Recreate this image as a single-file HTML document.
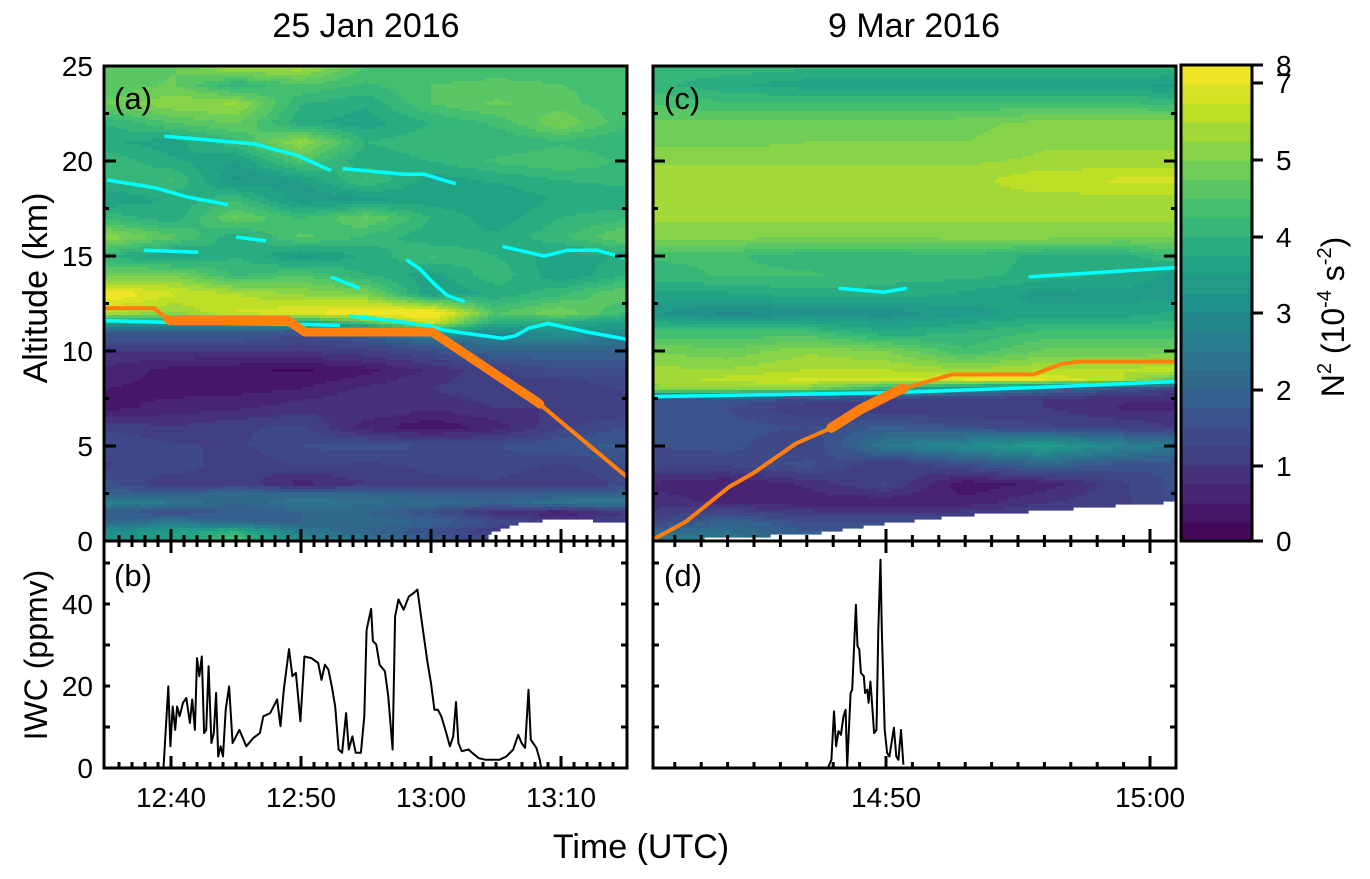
<!DOCTYPE html>
<html><head><meta charset="utf-8"><title>N2 and IWC</title>
<style>
html,body{margin:0;padding:0;background:#fff;}
svg text{font-family:"Liberation Sans",Arial,sans-serif;fill:#000;}
</style></head>
<body>
<svg id="chart" xmlns="http://www.w3.org/2000/svg" width="1370" height="874" viewBox="0 0 1370 874">
<defs>
<clipPath id="clipA"><rect x="104" y="66" width="523" height="475"/></clipPath>
<clipPath id="clipC"><rect x="653" y="66" width="523" height="475"/></clipPath>
<clipPath id="clipB"><rect x="104" y="541" width="523" height="227"/></clipPath>
<clipPath id="clipD"><rect x="653" y="541" width="523" height="227"/></clipPath>
</defs>
<g id="fieldA" clip-path="url(#clipA)"></g>
<g id="fieldC" clip-path="url(#clipC)"></g>
<g id="linesA" clip-path="url(#clipA)"></g>
<g id="linesC" clip-path="url(#clipC)"></g>
<g id="iwcB" clip-path="url(#clipB)"></g>
<g id="iwcD" clip-path="url(#clipD)"></g>
<g id="cbar"></g>
<g id="ticks"></g>
<g fill="none" stroke="#000" stroke-width="3">
<rect x="104" y="66" width="523" height="475"/>
<rect x="104" y="541" width="523" height="227"/>
<rect x="653" y="66" width="523" height="475"/>
<rect x="653" y="541" width="523" height="227"/>
<rect x="1181" y="65" width="71" height="476"/>
</g>
<text x="366" y="37" font-size="34" text-anchor="middle">25 Jan 2016</text>
<text x="914" y="37" font-size="34" text-anchor="middle">9 Mar 2016</text>
<text x="114" y="109" font-size="31">(a)</text>
<text x="114" y="586" font-size="31">(b)</text>
<text x="664" y="109" font-size="31">(c)</text>
<text x="664" y="586" font-size="31">(d)</text>
<text transform="translate(47,288) rotate(-90)" font-size="34" text-anchor="middle">Altitude (km)</text>
<text transform="translate(47,655) rotate(-90)" font-size="32" text-anchor="middle">IWC (ppmv)</text>
<text x="641" y="858" font-size="34" text-anchor="middle">Time (UTC)</text>
<text transform="translate(1344,317) rotate(-90)" font-size="32" text-anchor="middle">N<tspan font-size="20" dy="-13">2</tspan><tspan dy="13"> (10</tspan><tspan font-size="20" dy="-13">-4</tspan><tspan dy="13"> s</tspan><tspan font-size="20" dy="-13">-2</tspan><tspan dy="13">)</tspan></text>
<g id="labels"></g>
</svg>
<script>
// ---------- data ----------
const altsA = [0,0.5,1,1.5,2,2.5,3,4,5,6,7,8,9,10,10.5,11,11.5,12,13,14,15,16,17,18,19,20,21,22,23,24,25];
const timesA = [35,40,45,50,55,60,65,70,75];
const n2A = [
[3.0,3.5,4.5,3.0,2.5,2.0,1.5,1.5,1.5],
[3.0,3.5,4.0,2.5,2.0,1.5,1.0,1.0,1.0],
[2.0,2.5,2.0,2.0,2.2,2.0,1.5,1.2,1.2],
[1.8,1.5,1.8,2.0,2.0,1.5,0.8,0.5,1.0],
[2.8,2.5,2.0,2.5,2.3,2.2,2.0,2.5,2.5],
[2.0,1.8,2.2,2.0,2.0,1.8,1.8,1.8,2.0],
[1.6,1.0,1.2,0.6,1.0,1.2,1.2,1.0,1.3],
[1.2,1.5,1.0,1.3,1.2,1.3,1.4,1.2,1.5],
[1.5,1.3,1.2,1.5,1.6,1.5,1.5,1.7,1.8],
[1.2,1.0,1.2,1.3,0.6,0.3,0.6,1.2,1.5],
[0.4,0.6,0.7,0.9,1.0,0.8,1.0,1.0,1.0],
[0.5,0.4,0.4,0.5,0.8,1.0,1.2,1.0,1.3],
[0.7,0.4,0.3,0.2,0.4,0.8,1.2,1.5,1.5],
[1.0,1.0,1.0,1.0,1.2,1.5,2.0,2.0,2.0],
[1.5,1.5,1.5,1.3,1.5,2.0,2.5,2.5,2.3],
[1.8,1.8,1.8,1.6,2.0,3.5,3.0,3.2,3.2],
[3.5,3.5,3.5,3.5,4.5,5.8,3.8,3.8,3.5],
[5.5,5.2,5.8,6.0,6.3,6.5,4.5,5.0,4.2],
[6.3,5.8,5.5,5.2,5.0,3.5,3.8,4.2,4.8],
[4.8,5.0,4.2,4.5,4.0,3.6,4.2,3.5,4.0],
[4.0,3.5,4.0,3.4,3.8,4.3,4.0,3.6,3.8],
[5.2,4.6,3.8,4.6,4.2,3.8,3.8,4.2,4.8],
[4.2,3.8,4.8,4.2,4.8,4.0,3.6,4.0,4.2],
[3.5,3.8,4.2,3.3,3.4,3.6,3.5,3.8,3.8],
[4.0,4.3,3.2,3.5,4.3,3.6,3.8,4.0,4.1],
[4.2,3.8,3.5,4.5,3.8,4.0,4.3,4.5,4.2],
[3.8,3.6,4.2,5.3,4.0,4.2,4.0,4.2,4.0],
[4.0,4.5,4.8,3.8,3.6,4.0,4.3,5.0,4.3],
[4.8,5.2,5.3,4.0,3.8,4.5,4.8,4.6,4.3],
[4.5,4.8,4.0,4.5,4.2,4.5,4.6,4.5,4.4],
[4.5,4.7,5.5,5.5,4.5,4.3,4.3,4.3,4.5]
];
const groundTimesA = [35,64.3,64.6,66.9,69.5,72,75.2];
const groundAltA = [0,0,0.45,0.95,1.15,1.1,0.93];

const altsC = [0,1,2,3,4,5,6,7,7.5,8,8.5,9,10,11,12,13,14,15,16,17,18,19,20,21,22,23,24,25];
const timesC = [41,44,47,50,53,56,59,61];
const n2C = [
[3.0,2.5,2.0,2.0,2.0,2.0,2.0,2.0],
[1.2,2.0,1.5,1.5,1.5,1.5,1.5,1.5],
[0.9,0.7,0.6,0.5,0.6,1.0,1.2,1.5],
[0.7,0.5,0.8,1.3,0.3,0.6,1.2,1.6],
[1.3,1.3,1.6,1.0,1.5,2.0,1.6,1.5],
[1.5,1.6,1.2,2.5,3.0,3.5,2.8,2.5],
[1.5,1.6,1.5,1.8,1.5,1.3,1.2,1.0],
[1.5,1.5,1.0,1.0,1.0,1.0,0.7,0.7],
[1.8,1.7,1.5,1.3,1.2,1.0,0.8,0.8],
[5.2,5.2,5.0,4.0,3.0,2.2,1.5,1.2],
[5.3,5.6,5.8,5.8,6.0,6.0,5.5,4.5],
[5.3,5.3,5.5,5.5,5.3,5.5,5.5,5.8],
[5.0,4.8,5.2,5.0,4.3,4.8,4.8,4.8],
[4.3,4.3,4.3,3.8,4.0,4.3,4.3,4.3],
[3.3,2.9,3.1,3.1,3.4,3.6,3.6,3.8],
[3.7,3.7,3.9,3.9,3.7,3.4,3.4,3.4],
[4.1,4.3,4.3,4.1,4.1,3.9,3.7,3.4],
[4.3,4.3,4.1,4.1,4.2,3.9,3.9,4.3],
[5.1,5.1,5.0,5.0,5.1,5.1,5.0,5.0],
[5.3,5.3,5.3,5.3,5.3,5.3,5.3,5.3],
[5.4,5.4,5.4,5.4,5.4,5.4,5.4,5.4],
[5.4,5.4,5.4,5.4,5.4,5.7,5.8,5.8],
[5.2,5.2,5.2,5.2,5.2,5.3,5.3,5.3],
[4.9,4.9,5.0,5.0,5.0,5.2,5.2,5.2],
[4.8,4.8,4.8,4.8,4.9,5.1,5.1,5.1],
[4.5,4.3,4.3,4.3,4.3,4.3,4.3,4.2],
[4.1,3.8,3.6,3.6,3.6,3.6,3.6,3.4],
[4.2,4.2,4.1,4.1,4.1,4.1,4.1,4.1]
];
const groundTimesC = [41,47.3,50,53,56,59,61];
const groundAltC = [0,0.4,0.93,1.37,1.6,1.9,2.07];

// tropopause (cyan) segments
const tropoA = [
 {t:[35,40,45,50,53],a:[11.6,11.5,11.45,11.4,11.35]},
 {t:[53.7,57,60,61,63,65.5,66.5,67.5,69,72,75.2],a:[11.85,11.6,11.3,11.1,10.9,10.67,10.8,11.2,11.45,11.0,10.6]},
 {t:[39.5,46.4,49.7,52.3],a:[21.3,20.9,20.3,19.5]},
 {t:[53.2,57.9,59.5,61.9],a:[19.6,19.3,19.3,18.8]},
 {t:[35.1,38.7,41.3,44.4],a:[19.0,18.6,18.1,17.7]},
 {t:[45.0,47.3],a:[16.0,15.8]},
 {t:[37.9,42.1],a:[15.3,15.2]},
 {t:[52.3,54.5],a:[13.9,13.3]},
 {t:[58.1,59.1,60.3,61.3,62.6],a:[14.8,14.35,13.5,12.9,12.6]},
 {t:[65.5,68.7,70.5,72.8,74.9],a:[15.5,15.0,15.3,15.3,14.9]}
];
const tropoC = [
 {t:[41.17,50,56,61.1],a:[7.6,7.8,8.1,8.4]},
 {t:[48.2,49.9,50.8],a:[13.3,13.1,13.3]},
 {t:[55.4,61.1],a:[13.9,14.4]}
];
// flight track (orange)
const trackTimesA = [34.9,38.7,39.9,49.0,50.3,60.1,68.2,75.2];
const trackAltA = [12.25,12.25,11.6,11.6,11.0,11.0,7.3,3.3];
const trackTimesC = [41.2,42.4,44.07,44.96,46.6,47.9,49.0,50.5,52.5,55.6,56.6,57.3,61.1];
const trackAltC = [0.1,1.0,2.86,3.56,5.14,5.93,6.9,7.95,8.77,8.77,9.3,9.44,9.44];
// IWC
const iwcTimesB = [39.42,39.79,39.95,40.13,40.32,40.47,40.66,40.92,41.18,41.45,41.63,41.84,42.0,42.18,42.37,42.55,42.71,42.89,43.11,43.29,43.47,43.63,43.82,44.0,44.21,44.47,44.74,45.0,45.26,45.79,46.32,46.84,47.1,47.63,48.16,48.42,48.68,49.08,49.34,49.61,49.95,50.26,50.79,51.32,51.58,51.84,52.11,52.37,52.63,52.89,53.16,53.47,53.68,53.95,54.21,54.61,54.87,55.05,55.39,55.53,55.79,56.05,56.45,56.71,57.05,57.24,57.5,57.89,58.29,58.68,58.95,59.34,59.74,60.0,60.26,60.53,60.79,61.18,61.45,61.71,61.92,62.11,62.37,62.89,63.16,63.68,64.21,65.26,65.79,66.32,66.71,66.97,67.24,67.5,67.68,68.11,68.37,68.47];
const iwcValsB = [0,19.9,5.3,15.0,9.3,15.0,12.6,15.9,17.1,11.0,16.7,9.3,26.8,22.4,27.2,8.5,9.3,24.8,6.1,8.5,18.3,2.8,5.3,2.8,14.2,19.9,6.1,7.7,9.3,5.3,7.3,8.5,12.6,13.4,16.7,10.2,19.1,29.0,22.4,23.2,11.4,27.2,26.8,25.6,21.5,25.2,24.0,19.9,15.0,4.5,3.7,13.4,4.5,7.7,3.7,3.7,12.6,33.7,38.8,31.0,30.1,25.2,23.6,17.6,4.5,37.0,41.1,38.6,41.8,42.7,43.5,34.6,25.6,20.7,14.2,14.2,12.6,8.5,5.3,7.7,16.1,6.1,4.1,4.5,3.7,2.4,2.0,2.0,2.8,4.5,8.1,6.1,4.9,19.1,6.9,4.9,2.0,0];
const iwcTimesD = [47.80,47.93,48.03,48.11,48.2,48.29,48.39,48.47,48.53,48.66,48.72,48.86,48.92,48.99,49.05,49.16,49.21,49.29,49.34,49.41,49.47,49.55,49.64,49.71,49.79,49.84,49.95,50.04,50.13,50.30,50.39,50.47,50.57,50.66];
const iwcValsD = [0,2.0,13.8,5.3,9.0,8.1,12.6,14.2,0.4,18.3,19.1,39.8,29.7,28.9,23.2,22.4,18.3,19.1,15.9,21.1,15.9,8.5,9.3,33.7,50.8,33.7,9.3,3.7,2.8,9.8,2.8,2.0,9.3,0.8];
// ticks
const altTicks = [0,5,10,15,20,25];
const iwcTickLabels = [0,20,40];
const timeLabelsA = ["12:40","12:50","13:00","13:10"];
const timeLabelTimesA = [40,50,60,70];
const timeLabelsC = ["14:50","15:00"];
const timeLabelTimesC = [50,60];
const cbarTickLabels = ["0","1","2","3","4","5","7","8"];

// ---------- scales ----------
const NS = "http://www.w3.org/2000/svg";
const xA = t => 171 + (t - 40) * 13;
const xAinv = x => 40 + (x - 171) / 13;
const xC = t => 886 + (t - 50) * 26.4;
const xCinv = x => 50 + (x - 886) / 26.4;
const yAlt = a => 541 - a * 19;
const yIWC = v => 768 - v * 4.1;
const VMAX = 6.25, NB = 25;
const cbarTickPos = [541,466,390,313,237,160,83,65];

function mk(tag, attrs, parent) {
  const e = document.createElementNS(NS, tag);
  for (const k in attrs) e.setAttribute(k, attrs[k]);
  parent.appendChild(e);
  return e;
}
const VIR = ["#440154","#482475","#414487","#355f8d","#2a788e","#21918c","#22a884","#44bf70","#7ad151","#bddf26","#fde725"];
function hex2rgb(h){return [parseInt(h.substr(1,2),16),parseInt(h.substr(3,2),16),parseInt(h.substr(5,2),16)];}
const VIRRGB = VIR.map(hex2rgb);
function viridis(f){
  f = Math.max(0, Math.min(1, f));
  const p = f * 10, i = Math.min(9, Math.floor(p)), r = p - i;
  const a = VIRRGB[i], b = VIRRGB[i+1];
  return "rgb(" + a.map((c,k)=>Math.round(c + (b[k]-c)*r)).join(",") + ")";
}
const bandColors = [];
for (let i = 0; i < NB; i++) bandColors.push(viridis((i + 0.5) / NB));
function band(v){ return Math.max(0, Math.min(NB-1, Math.floor(v / (VMAX/NB)))); }

function idx(arr, v){
  if (v <= arr[0]) return [0, 0];
  if (v >= arr[arr.length-1]) return [arr.length-2, 1];
  for (let i = 0; i < arr.length-1; i++) if (v <= arr[i+1]) return [i, (v-arr[i])/(arr[i+1]-arr[i])];
  return [arr.length-2, 1];
}
function interp1(xs, ys, x){ const [i, r] = idx(xs, x); return ys[i] + (ys[i+1]-ys[i]) * r; }
function bilin(times, alts, vals, t, a){
  const [i, rt] = idx(times, t), [j, ra] = idx(alts, a);
  const v00 = vals[j][i], v01 = vals[j][i+1], v10 = vals[j+1][i], v11 = vals[j+1][i+1];
  return (v00*(1-rt) + v01*rt)*(1-ra) + (v10*(1-rt) + v11*rt)*ra;
}

function drawField(g, times, alts, vals, gT, gA, x0, x1, inv){
  const S = 3;
  for (let py = 66; py < 541; py += S) {
    const a = (541 - (py + S/2)) / 19;
    let runX = x0, runB = null;
    const flush = (xe) => {
      if (runB !== null && runB >= 0) {
        const r = mk("rect", {x: runX, y: py, width: xe - runX + 0.6, height: S + 0.6, fill: bandColors[runB]}, g);
        
        
      }
    };
    for (let px = x0; px < x1; px += S) {
      const t = inv(px + S/2);
      let b;
      if (a < interp1(gT, gA, t)) b = -1;
      else b = band(bilin(times, alts, vals, t, a));
      if (b !== runB) { flush(px); runX = px; runB = b; }
    }
    flush(x1);
  }
}
drawField(document.getElementById("fieldA"), timesA, altsA, n2A, groundTimesA, groundAltA, 104, 627, xAinv);
drawField(document.getElementById("fieldC"), timesC, altsC, n2C, groundTimesC, groundAltC, 653, 1176, xCinv);

function pts(ts, vs, xs, ys){ return ts.map((t,i)=> xs(t).toFixed(1) + "," + ys(vs[i]).toFixed(1)).join(" "); }

// tropopause lines
const gLA = document.getElementById("linesA"), gLC = document.getElementById("linesC");
tropoA.forEach(s => {
  const p = mk("polyline", {points: pts(s.t, s.a, xA, yAlt), fill: "none", stroke: "#00ffff", "stroke-width": 3.5, "stroke-linejoin": "round"}, gLA);
  
  
});
tropoC.forEach(s => {
  const p = mk("polyline", {points: pts(s.t, s.a, xC, yAlt), fill: "none", stroke: "#00ffff", "stroke-width": 3.5, "stroke-linejoin": "round"}, gLC);
  
  
});

// flight tracks
function cloudRange(ts, vs){
  let s = null, e = null;
  vs.forEach((v,i)=>{ if (v > 0) { if (s === null) s = ts[i]; e = ts[i]; } });
  return [s, e];
}
function subTrack(ts, as, t0, t1){
  const ot = [t0], oa = [interp1(ts, as, t0)];
  ts.forEach((t,i)=>{ if (t > t0 && t < t1) { ot.push(t); oa.push(as[i]); } });
  ot.push(t1); oa.push(interp1(ts, as, t1));
  return [ot, oa];
}
function drawTrack(g, ts, as, xs, iT, iV, w){
  const thin = mk("polyline", {points: pts(ts, as, xs, yAlt), fill: "none", stroke: "#ff7f0e", "stroke-width": 4, "stroke-linejoin": "round"}, g);
  
  
  const [t0, t1] = cloudRange(iT, iV);
  const [st, sa] = subTrack(ts, as, t0, t1);
  const thick = mk("polyline", {points: pts(st, sa, xs, yAlt), fill: "none", stroke: "#ff7f0e", "stroke-width": w, "stroke-linejoin": "round", "stroke-linecap": "round"}, g);
  
  
}
drawTrack(gLA, trackTimesA, trackAltA, xA, iwcTimesB, iwcValsB, 9);
drawTrack(gLC, trackTimesC, trackAltC, xC, iwcTimesD, iwcValsD, 10);

// IWC
const lb = mk("polyline", {points: pts(iwcTimesB, iwcValsB, xA, yIWC), fill: "none", stroke: "#000", "stroke-width": 2, "stroke-linejoin": "round"}, document.getElementById("iwcB"));


const ld = mk("polyline", {points: pts(iwcTimesD, iwcValsD, xC, yIWC), fill: "none", stroke: "#000", "stroke-width": 2, "stroke-linejoin": "round"}, document.getElementById("iwcD"));



// colorbar
const gCB = document.getElementById("cbar");
for (let i = 0; i < NB; i++) {
  const y1 = 541 - i * (476 / NB), y0 = 541 - (i + 1) * (476 / NB);
  const r = mk("rect", {x: 1181, y: y0.toFixed(2), width: 71, height: (y1 - y0 + 0.5).toFixed(2), fill: bandColors[i]}, gCB);
  
  
}

// ticks
const gT = document.getElementById("ticks"), gLab = document.getElementById("labels");
function line(x1,y1,x2,y2){
  const l = mk("line", {x1:x1,y1:y1,x2:x2,y2:y2,stroke:"#000","stroke-width":3}, gT);
  
  
}
function label(x,y,txt,anchor,name){
  const t = mk("text", {x:x,y:y,"font-size":28,"text-anchor":anchor}, gLab);
  t.textContent = txt;
  
  
}
[[104,627],[653,1176]].forEach(([L,R])=>{
  for (let a = 2.5; a < 25; a += 2.5) {
    const len = (a % 5 === 0) ? 12 : 5;
    line(L, yAlt(a), L + len, yAlt(a));
    line(R, yAlt(a), R - len, yAlt(a));
  }
  for (let v = 10; v <= 50; v += 10) {
    line(L, yIWC(v), L + 6, yIWC(v));
    line(R, yIWC(v), R - 6, yIWC(v));
  }
});
for (let t = 35; t <= 75; t++) {
  const x = xA(t); if (x <= 106 || x >= 625) continue;
  const len = (t % 10 === 0) ? 12 : 6;
  line(x, 541 - len, x, 541 + len);
  line(x, 768, x, 768 - len);
}
for (let t = 42; t <= 61; t++) {
  const x = xC(t); if (x <= 655 || x >= 1174) continue;
  const len = (t % 10 === 0) ? 12 : 6;
  line(x, 541 - len, x, 541 + len);
  line(x, 768, x, 768 - len);
}
cbarTickPos.forEach(y => line(1252, y, 1263, y));

altTicks.forEach(a => label(93, yAlt(a) + 10, String(a), "end", "y-tick-label-altitude"));
iwcTickLabels.forEach(v => label(93, yIWC(v) + 10, String(v), "end", "y-tick-label-iwc"));
timeLabelsA.forEach((s,i) => label(xA(timeLabelTimesA[i]), 807, s, "middle", "x-tick-label"));
timeLabelsC.forEach((s,i) => label(xC(timeLabelTimesC[i]), 807, s, "middle", "x-tick-label"));
cbarTickLabels.forEach((s,i) => label(1276, cbarTickPos[i] + 10, s, "start", "colorbar-tick-label"));
</script>
</body></html>
